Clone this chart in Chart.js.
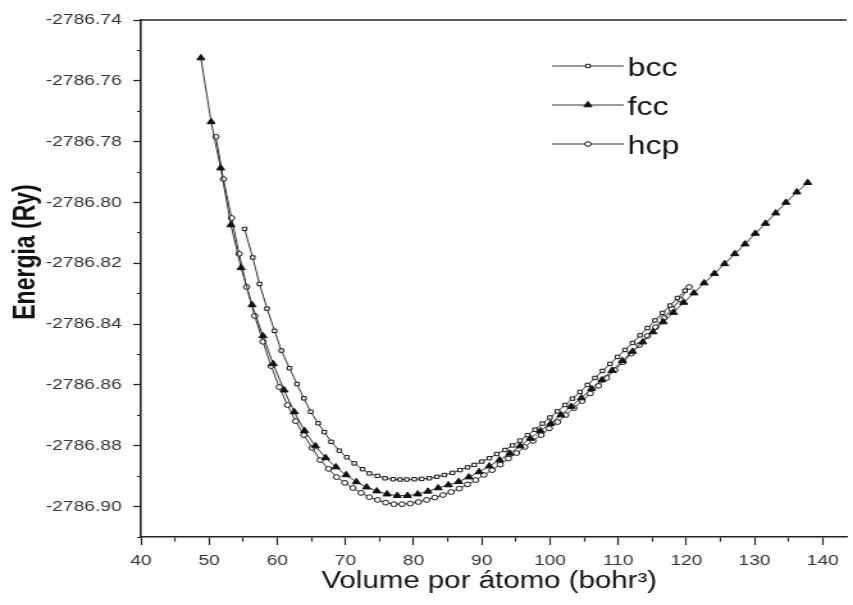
<!DOCTYPE html>
<html>
<head>
<meta charset="utf-8">
<script src="https://cdn.jsdelivr.net/npm/chart.js@4/dist/chart.umd.min.js"></script>
<style>
  html, body { margin: 0; padding: 0; background: #fff; overflow: hidden; }
  #energyChart { display: block; width: 853px; height: 605px; }
</style>
</head>
<body>
<canvas id="energyChart" width="666" height="605" style="width:853px;height:605px"></canvas>
<script>
// volumes (bohr^3) and energies (Ry)
var bccVol = [55.2, 56.4, 57.4, 58.5, 59.6, 60.6, 61.8, 62.9, 63.9, 64.9, 66.0, 66.9, 67.9, 69.1, 70.2, 71.3, 72.5, 73.5, 74.7, 75.8,
  77.0, 78.0, 79.0, 80.1, 81.2, 82.3, 83.4, 84.5, 85.7, 86.8, 87.9, 88.9, 90.0, 91.1, 92.2, 93.4, 94.5, 95.6, 96.7, 97.8,
  98.9, 100.0, 101.1, 102.2, 103.3, 104.4, 105.5, 106.6, 107.7, 108.8, 109.9, 111.0, 112.1, 113.2, 114.3, 115.4, 116.5, 117.6, 118.7, 119.8]
var bccE = [-2786.8087, -2786.8181, -2786.8268, -2786.8349, -2786.8422, -2786.8487, -2786.8545, -2786.8597, -2786.8644, -2786.8688,
  -2786.8726, -2786.8755, -2786.8787, -2786.8816, -2786.8838, -2786.8858, -2786.8877, -2786.8891, -2786.8899, -2786.8907,
  -2786.8910, -2786.8911, -2786.8911, -2786.8910, -2786.8909, -2786.8907, -2786.8902, -2786.8896, -2786.8889, -2786.8880,
  -2786.8871, -2786.8863, -2786.8852, -2786.8841, -2786.8827, -2786.8814, -2786.8799, -2786.8783, -2786.8765, -2786.8747,
  -2786.8727, -2786.8707, -2786.8687, -2786.8666, -2786.8645, -2786.8623, -2786.8600, -2786.8577, -2786.8554, -2786.8531,
  -2786.8508, -2786.8485, -2786.8462, -2786.8437, -2786.8413, -2786.8388, -2786.8363, -2786.8339, -2786.8314, -2786.8290]

var fccVol = [48.8, 50.3, 51.7, 53.2, 54.7, 56.3, 57.9, 59.4, 61.0, 62.5, 64.0, 65.6, 67.1, 68.6, 70.1, 71.6, 73.1, 74.6, 76.1, 77.6,
  79.1, 80.6, 82.1, 83.6, 85.1, 86.6, 88.1, 89.6, 91.1, 92.6, 94.1, 95.6, 97.1, 98.6, 100.1, 101.6, 103.1, 104.6, 106.1, 107.6,
  109.1, 110.6, 112.1, 113.6, 115.1, 116.6, 118.1, 119.6, 121.1, 122.6, 124.1, 125.6, 127.1, 128.6, 130.1, 131.6, 133.1, 134.6, 136.2, 137.8]
var fccE = [-2786.7525, -2786.7735, -2786.7887, -2786.8074, -2786.8215, -2786.8337, -2786.8439, -2786.8531, -2786.8617, -2786.8689,
  -2786.8751, -2786.8801, -2786.8840, -2786.8870, -2786.8896, -2786.8919, -2786.8936, -2786.8949, -2786.8959, -2786.8964,
  -2786.8964, -2786.8959, -2786.8950, -2786.8939, -2786.8929, -2786.8918, -2786.8903, -2786.8886, -2786.8867, -2786.8847,
  -2786.8825, -2786.8801, -2786.8776, -2786.8751, -2786.8727, -2786.8699, -2786.8671, -2786.8643, -2786.8613, -2786.8584,
  -2786.8553, -2786.8521, -2786.8490, -2786.8459, -2786.8426, -2786.8393, -2786.8362, -2786.8329, -2786.8298, -2786.8265,
  -2786.8234, -2786.8202, -2786.8169, -2786.8137, -2786.8102, -2786.8069, -2786.8035, -2786.8000, -2786.7966, -2786.7935]

var hcpVol = [51.0, 52.1, 53.3, 54.4, 55.5, 56.7, 57.9, 59.1, 60.3, 61.5, 62.7, 63.9, 65.1, 66.3, 67.5, 68.7, 69.9, 71.1, 72.3, 73.5,
  74.7, 75.9, 77.1, 78.3, 79.5, 80.7, 81.9, 83.1, 84.3, 85.5, 86.7, 87.9, 89.1, 90.3, 91.5, 92.7, 93.9, 95.1, 96.3, 97.5,
  98.7, 99.9, 101.1, 102.3, 103.5, 104.7, 105.9, 107.1, 108.3, 109.5, 110.7, 111.9, 113.1, 114.3, 115.5, 116.7, 117.9, 119.1, 120.4]
var hcpE = [-2786.7784, -2786.7923, -2786.8051, -2786.8169, -2786.8278, -2786.8373, -2786.8458, -2786.8538, -2786.8607, -2786.8666,
  -2786.8719, -2786.8765, -2786.8807, -2786.8847, -2786.8876, -2786.8903, -2786.8922, -2786.8939, -2786.8955, -2786.8969,
  -2786.8978, -2786.8987, -2786.8992, -2786.8992, -2786.8990, -2786.8985, -2786.8978, -2786.8970, -2786.8962, -2786.8952,
  -2786.8941, -2786.8927, -2786.8913, -2786.8896, -2786.8880, -2786.8862, -2786.8842, -2786.8824, -2786.8804, -2786.8784,
  -2786.8765, -2786.8743, -2786.8722, -2786.8699, -2786.8676, -2786.8653, -2786.8628, -2786.8603, -2786.8577, -2786.8551,
  -2786.8525, -2786.8497, -2786.8469, -2786.8439, -2786.8410, -2786.8380, -2786.8350, -2786.8319, -2786.8278]

var seriesNames = ["bcc", "fcc", "hcp"]
var xTitle = "Volume por átomo (bohr³)"
var yTitle = "Energia (Ry)"

var FONT = "'Liberation Sans', Arial, sans-serif"
var INK = "#222"

function points(xs, ys) {
    var out = []
    for (var i = 0; i < xs.length; i++) {
        out.push({x: xs[i], y: ys[i]})
    }
    return out
}

// titles, top frame line and the line+marker legend
var decorations = {
    id: "decorations",
    afterDraw: function(chart) {
        var ctx = chart.ctx
        var area = chart.chartArea
        ctx.save()

        ctx.strokeStyle = INK
        ctx.lineWidth = 1.6
        ctx.beginPath()
        ctx.moveTo(area.left, area.top)
        ctx.lineTo(area.right, area.top)
        ctx.stroke()

        ctx.fillStyle = "#111"
        ctx.textAlign = "center"
        ctx.textBaseline = "middle"
        ctx.font = "23px " + FONT
        ctx.fillText(xTitle, 382, 582)

        ctx.save()
        ctx.translate(21, 252)
        ctx.rotate(-Math.PI / 2)
        ctx.font = "bold 23px " + FONT
        ctx.fillText(yTitle, 0, 0)
        ctx.restore()

        var rows = [66, 105, 144]
        chart.data.datasets.forEach(function(ds, i) {
            var y = rows[i]
            ctx.strokeStyle = ds.borderColor
            ctx.lineWidth = 1.2
            ctx.beginPath()
            ctx.moveTo(431, y)
            ctx.lineTo(487, y)
            ctx.stroke()
            ctx.fillStyle = ds.pointBackgroundColor
            ctx.strokeStyle = ds.pointBorderColor
            ctx.lineWidth = ds.pointBorderWidth
            Chart.helpers.drawPoint(ctx, {pointStyle: ds.pointStyle, radius: ds.pointRadius, borderWidth: ds.pointBorderWidth, rotation: 0}, 459, y)
            ctx.fillStyle = "#111"
            ctx.textAlign = "left"
            ctx.textBaseline = "alphabetic"
            ctx.font = "25px " + FONT
            ctx.fillText(ds.label, 490, y + 10)
        })
        ctx.restore()
    }
}

var chart = new Chart(document.getElementById("energyChart").getContext("2d"), {
    type: "line",
    data: {
        datasets: [
            {
                label: seriesNames[0],
                data: points(bccVol, bccE),
                borderColor: "#333",
                borderWidth: 1,
                pointStyle: "rect",
                pointRadius: 2.4,
                pointBorderWidth: 1,
                pointBorderColor: "#111",
                pointBackgroundColor: "#fff"
            },
            {
                label: seriesNames[1],
                data: points(fccVol, fccE),
                borderColor: "#333",
                borderWidth: 1,
                pointStyle: "triangle",
                pointRadius: 3.6,
                pointBorderWidth: 1,
                pointBorderColor: "#111",
                pointBackgroundColor: "#111"
            },
            {
                label: seriesNames[2],
                data: points(hcpVol, hcpE),
                borderColor: "#333",
                borderWidth: 1,
                pointStyle: "circle",
                pointRadius: 2.4,
                pointBorderWidth: 1,
                pointBorderColor: "#111",
                pointBackgroundColor: "#fff"
            }
        ]
    },
    options: {
        responsive: false,
        animation: false,
        devicePixelRatio: 1,
        layout: {
            padding: {top: 20, left: 0, right: 0, bottom: 0}
        },
        plugins: {
            legend: {display: false},
            tooltip: {enabled: false}
        },
        scales: {
            x: {
                type: "linear",
                position: "bottom",
                min: 40,
                max: 143.5,
                afterFit: function(scale) { scale.height = 68 },
                border: {display: true, color: INK, width: 1.6},
                grid: {
                    display: true,
                    drawOnChartArea: false,
                    drawTicks: true,
                    tickLength: 8,
                    tickColor: INK,
                    tickWidth: 1.2,
                    tickBorderDash: function(c) { return c.tick && c.tick.value % 10 !== 0 ? [4, 20] : [] }
                },
                ticks: {
                    stepSize: 5,
                    includeBounds: false,
                    autoSkip: false,
                    maxRotation: 0,
                    padding: 7,
                    color: "#333",
                    font: {family: FONT, size: 15},
                    callback: function(v) { return v % 10 === 0 ? v : "" }
                }
            },
            y: {
                type: "linear",
                position: "left",
                min: -2786.91,
                max: -2786.74,
                afterFit: function(scale) { scale.width = 110 },
                border: {display: true, color: INK, width: 1.6},
                grid: {
                    display: true,
                    drawOnChartArea: false,
                    drawTicks: true,
                    tickLength: 6,
                    tickColor: INK,
                    tickWidth: 1.2,
                    tickBorderDash: function(c) { return c.tick && Math.round(c.tick.value * 100) % 2 !== 0 ? [3, 3] : [] },
                    tickBorderDashOffset: function(c) { return c.tick && Math.round(c.tick.value * 100) % 2 !== 0 ? 3 : 0 }
                },
                ticks: {
                    stepSize: 0.01,
                    autoSkip: false,
                    padding: 9,
                    color: "#333",
                    font: {family: FONT, size: 15},
                    callback: function(v) { return Math.round(v * 100) % 2 === 0 ? v.toFixed(2) : "" }
                }
            }
        }
    },
    plugins: [decorations]
});
</script>
</body>
</html>
